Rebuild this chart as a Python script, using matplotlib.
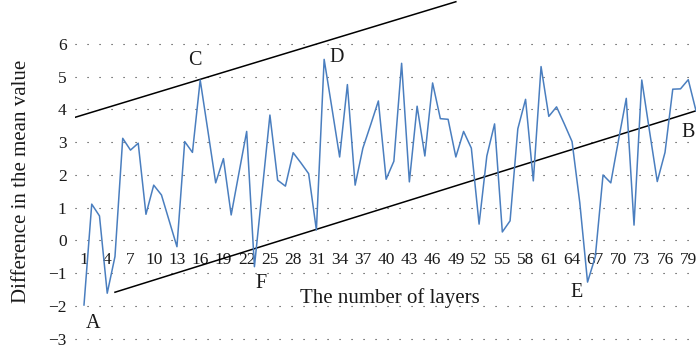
import matplotlib
matplotlib.use("Agg")
import matplotlib.pyplot as plt
import numpy as np

plt.rcParams['font.family'] = ['Liberation Serif', 'DejaVu Serif']

layers = list(range(1, 81))
diff_mean = [
    -1.97, 1.11, 0.75, -1.61, -0.49, 3.12, 2.76, 2.97, 0.80, 1.69,
    1.39, 0.60, -0.19, 3.02, 2.69, 4.90, 3.34, 1.76, 2.50, 0.78,
    2.06, 3.33, -0.80, 1.51, 3.83, 1.84, 1.66, 2.68, 2.37, 2.04,
    0.32, 5.53, 4.05, 2.55, 4.76, 1.69, 2.82, 3.53, 4.26, 1.87,
    2.42, 5.41, 1.79, 4.10, 2.58, 4.81, 3.72, 3.70, 2.55, 3.33,
    2.82, 0.50, 2.58, 3.56, 0.26, 0.60, 3.41, 4.31, 1.82, 5.31,
    3.79, 4.08, 3.56, 3.02, 1.15, -1.27, -0.50, 2.00, 1.76, 3.07,
    4.34, 0.47, 4.90, 3.34, 1.80, 2.69, 4.62, 4.63, 4.91, 3.96,
]
xtick_labels = list(range(1, 81, 3))
ytick_values = list(range(-3, 7))

# envelope lines (start/end in layer index, value)
upper_line_x = [-0.16, 49.0]
upper_line_y = [3.76, 7.29]
lower_line_x = [5.0, 80.0]
lower_line_y = [-1.58, 3.96]

point_labels = ['A', 'C', 'D', 'F', 'E', 'B']
point_label_x = [2.16, 15.3, 33.6, 23.8, 64.6, 79.9]
point_label_y = [-2.52, 5.51, 5.60, -1.30, -1.60, 3.31]
point_label_ha = ['center', 'center', 'center', 'center', 'center', 'right']

fig = plt.figure(figsize=(6.96, 3.58), dpi=100)
ax = fig.add_axes([75/696, 0, 621/696, 1])
ax.set_xlim(-0.16, 80)
ax.set_ylim(-3.588, 7.343)

for v in ytick_values:
    ax.axhline(v, color='#333333', lw=0.8, ls=(0, (1.0, 9.8)), zorder=1)

ax.plot(layers, diff_mean, color='#4a7ebf', lw=1.1, zorder=3)
ax.plot(upper_line_x, upper_line_y, color='black', lw=1.1, zorder=2)
ax.plot(lower_line_x, lower_line_y, color='black', lw=1.1, zorder=2)

for s, x, y, ha in zip(point_labels, point_label_x, point_label_y, point_label_ha):
    ax.text(x, y, s, ha=ha, va='center', fontsize=14.5, color='#1a1a1a')

for sp in ['top', 'right', 'left']:
    ax.spines[sp].set_visible(False)
ax.spines['bottom'].set_position(('data', 0))
ax.spines['bottom'].set_color('none')

ax.set_xticks(xtick_labels)
ax.set_xticklabels([str(v) for v in xtick_labels])
ax.set_yticks(ytick_values)
ax.set_yticklabels([str(v).replace('-', '\u2212') for v in ytick_values])
ax.tick_params(axis='x', length=0, pad=8, labelsize=12.5, colors='#1a1a1a')
ax.tick_params(axis='y', length=0, pad=6, labelsize=12.5, colors='#1a1a1a')

fig.text(390/696, 1 - 298/358, 'The number of layers', ha='center', va='center',
         fontsize=15, color='#1a1a1a')
fig.text(22/696, 1 - 181/358, 'Difference in the mean value', ha='center', va='center',
         rotation=90, fontsize=15, color='#1a1a1a')

fig.savefig('out.png', dpi=100)
